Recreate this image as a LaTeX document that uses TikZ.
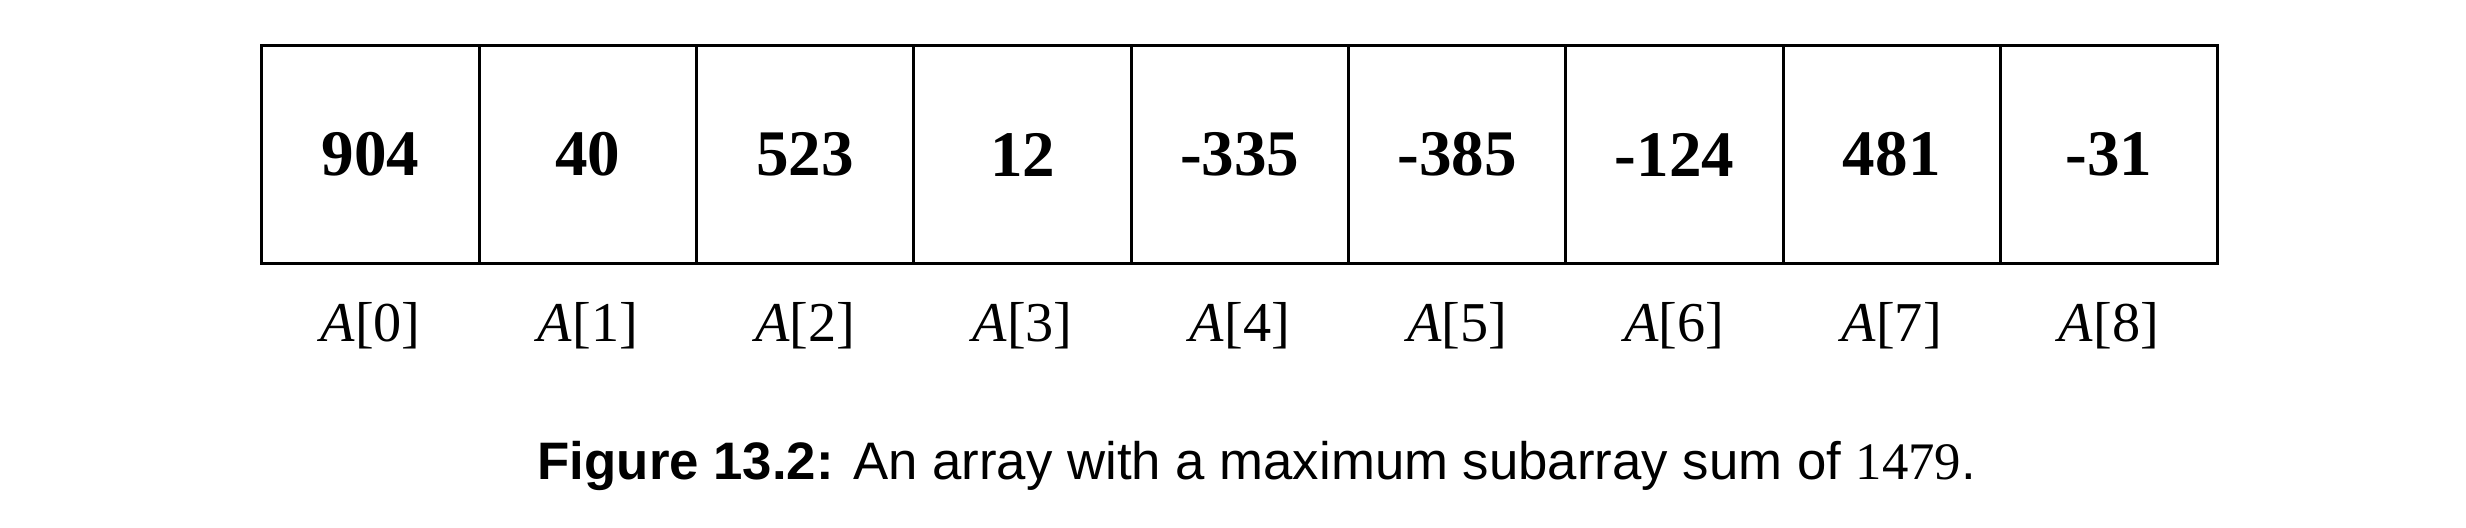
\documentclass[tikz,border=0pt]{standalone}
\usepackage{fontspec}
\setmainfont{Liberation Serif}
\setsansfont{Liberation Sans}
\usetikzlibrary{positioning}

\begin{document}
\begin{tikzpicture}[
  x=0.01cm,y=-0.01cm,
  cell/.style={draw,line width=0.85pt,minimum width=2.173cm,minimum height=2.17cm,outer sep=0pt,inner sep=0pt,font=\fontsize{18.5}{20}\selectfont\bfseries},
  idx/.style={anchor=base,inner sep=0pt,font=\fontsize{16}{18}\selectfont},
  capt/.style={anchor=base west,inner sep=0pt,font=\sffamily\fontsize{15}{18}\selectfont},
]
\useasboundingbox (0,0) rectangle (2466,528);
% array cells and their indices
\foreach \v [count=\i from 0] in {904,40,523,12,-335,-385,-124,481,-31}{
  \node[cell] (c\i) at (370.65+217.3*\i,154.5) {\v};
  \node[idx] (a\i) at (370.65+217.3*\i,342) {\textit{A}[\i]};
}
% caption
\node[capt] (cap) at (537,480) {\textbf{Figure 13.2:} An array with a maximum subarray sum of {\rmfamily 1479}.};
\end{tikzpicture}
\end{document}
